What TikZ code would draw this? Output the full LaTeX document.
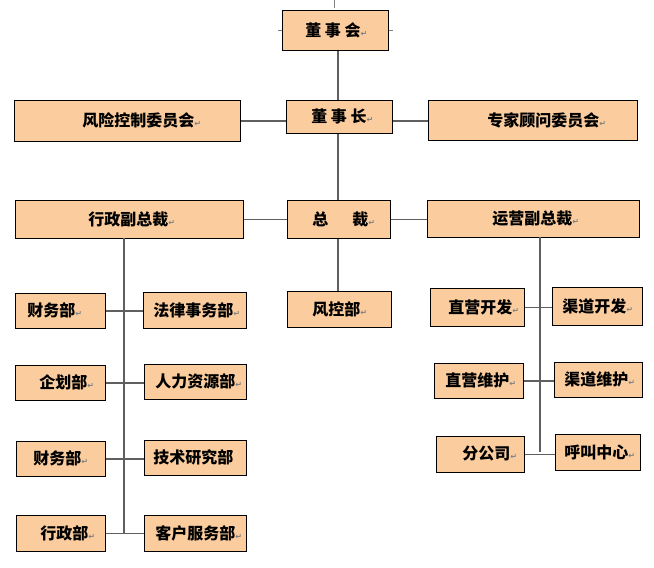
\documentclass[tikz,border=0pt]{standalone}
\usepackage{fontspec}
\newfontfamily\cjk{Noto Sans CJK SC}
\newfontfamily\dejavu{DejaVu Sans}
\definecolor{boxfill}{RGB}{251,205,158}
\definecolor{ln}{RGB}{95,95,95}
\newcommand\rtmark{{\dejavu\fontsize{6pt}{6pt}\selectfont\textcolor{gray}{↵}}}
\newcommand\orgbox[7]{%
  \node[box, minimum width={(#4-#2)*0.75pt}, minimum height={(#5-#3)*0.75pt}] (#1) at (#2,#3) {};
  \node[lab] (#1t) at (#6,{(#3+#5)/2}) {#7};}
\begin{document}
\begin{tikzpicture}[x=0.75pt,y=-0.75pt,
  box/.style={draw=black, line width=0.6pt, fill=boxfill, inner sep=0pt, anchor=north west},
  lab/.style={anchor=west, inner sep=0pt, font=\cjk\bfseries\fontsize{12pt}{12pt}\selectfont},
  conn/.style={draw=ln, line width=1pt},
  tick/.style={draw=gray, line width=0.4pt}]
\useasboundingbox (0,0) rectangle (654,568);

% top
\orgbox{hui}{282}{10}{388}{50}{305}{董 事 会\rtmark}
\orgbox{zsz}{286}{100}{392}{133}{311}{董 事 长\rtmark}
\orgbox{fx}{14}{100}{240}{141}{82}{风险控制委员会\rtmark}
\orgbox{zj}{428}{100}{637}{140}{487}{专家顾问委员会\rtmark}
% second level
\orgbox{zc}{287}{200}{390}{238}{312}{总\hspace{18pt}裁\rtmark}
\orgbox{xz}{15}{200}{243}{238}{88}{行政副总裁\rtmark}
\orgbox{yy}{427}{200}{639}{237}{492}{运营副总裁\rtmark}
\orgbox{fk}{287}{291}{391}{327}{312}{风控部\rtmark}
% left departments
\orgbox{cw}{15}{293}{105}{328}{27}{财务部\rtmark}
\orgbox{fl}{143}{292}{246}{328}{153}{法律事务部\rtmark}
\orgbox{qh}{15}{365}{105}{400}{39}{企划部\rtmark}
\orgbox{rl}{144}{364}{246}{399}{155}{人力资源部\rtmark}
\orgbox{cwb}{16}{441}{105}{476}{33}{财务部\rtmark}
\orgbox{js}{144}{440}{246}{475}{153}{技术研究部}
\orgbox{xzb}{16}{515}{105}{551}{40}{行政部\rtmark}
\orgbox{kh}{144}{515}{246}{551}{155}{客户服务部\rtmark}
% right departments
\orgbox{zk}{430}{288}{524}{326}{448}{直营开发\rtmark}
\orgbox{qk}{552}{287}{642}{325}{562}{渠道开发\rtmark}
\orgbox{zw}{434}{363}{523}{398}{445}{直营维护\rtmark}
\orgbox{qw}{554}{362}{642}{397}{564}{渠道维护\rtmark}
\orgbox{fg}{436}{436}{524}{472}{462}{分公司\rtmark}
\orgbox{hj}{555}{434}{640}{470}{564}{呼叫中心\rtmark}

% trunk coordinates
\coordinate (vmain) at (338,0);
\coordinate (ltop) at (124,238);
\coordinate (lbot) at (124,533);
\coordinate (rtop) at (540,237);
\coordinate (rbot) at (540,452);
\coordinate (mark) at (334,0);

% small marks
\draw[tick] (mark) -- ++(0,8);
\draw[tick] (hui.west) -- ++(-4,0);
\draw[tick] (hui.east) -- ++(4,0);

% main connectors
\draw[conn] (vmain |- hui.south) -- (vmain |- zsz.north);
\draw[conn] (vmain |- zsz.south) -- (vmain |- zc.north);
\draw[conn] (vmain |- zc.south) -- (vmain |- fk.north);
\draw[conn] (fx.east) -- (fx.east -| zsz.west);
\draw[conn] (fx.east -| zsz.east) -- (fx.east -| zj.west);
\draw[conn] (xz.east) -- (xz.east -| zc.west);
\draw[conn] (zc.east) -- (zc.east -| yy.west);

% left trunk
\draw[conn] (ltop) -- (lbot);
\draw[conn] (cw.east) -- (cw.east -| fl.west);
\draw[conn] (qh.east) -- (qh.east -| rl.west);
\draw[conn] (cwb.east) -- (cwb.east -| js.west);
\draw[conn] (xzb.east) -- (xzb.east -| kh.west);

% right trunk
\draw[conn] (rtop) -- (rbot);
\draw[conn] (zk.east) -- (zk.east -| qk.west);
\draw[conn] (zw.east) -- (zw.east -| qw.west);
\draw[conn] (fg.east) -- (fg.east -| hj.west);
\end{tikzpicture}
\end{document}
